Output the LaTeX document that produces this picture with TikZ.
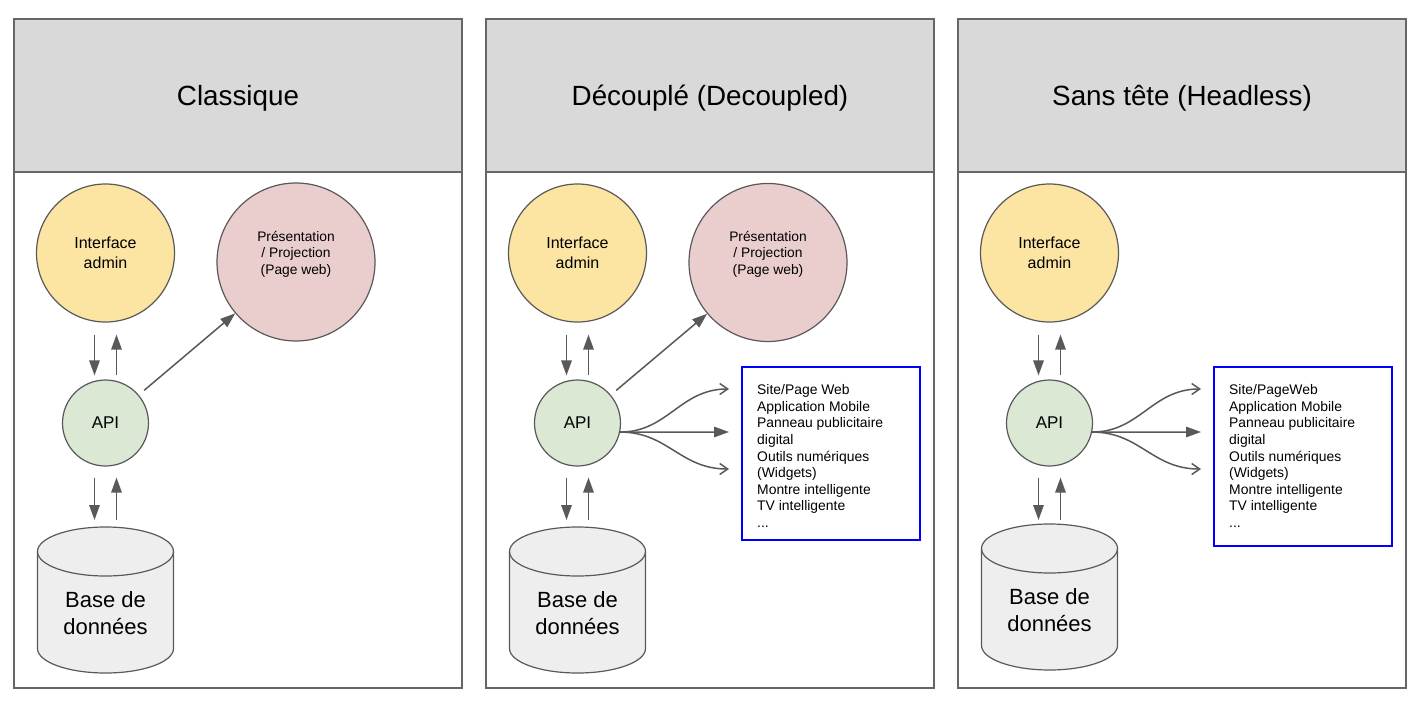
\documentclass[tikz,border=0pt]{standalone}
\usepackage{fontspec}
\setmainfont{Liberation Sans}
\usetikzlibrary{arrows.meta}
\definecolor{hdr}{HTML}{D9D9D9}
\definecolor{edgec}{HTML}{666666}
\definecolor{lnc}{HTML}{595959}
\definecolor{yel}{HTML}{FCE5A3}
\definecolor{pnk}{HTML}{EACECE}
\definecolor{grn}{HTML}{DAE8D4}
\definecolor{dbf}{HTML}{EEEEEE}
\definecolor{blu}{HTML}{0000FF}
\newcommand\dbcyl[3]{%
  \draw[draw=lnc, line width=1.2pt, fill=dbf]
    ({#1-68},{#2+24.5}) -- ({#1-68},{#3-24.5})
    .. controls ({#1-68},{#3-10.97}) and ({#1-37.56},{#3}) .. ({#1},{#3})
    .. controls ({#1+37.56},{#3}) and ({#1+68},{#3-10.97}) .. ({#1+68},{#3-24.5})
    -- ({#1+68},{#2+24.5})
    .. controls ({#1+68},{#2+10.97}) and ({#1+37.56},{#2}) .. ({#1},{#2})
    .. controls ({#1-37.56},{#2}) and ({#1-68},{#2+10.97}) .. ({#1-68},{#2+24.5}) -- cycle;
  \draw[draw=lnc, line width=1.2pt]
    ({#1-68},{#2+24.5})
    .. controls ({#1-68},{#2+38.03}) and ({#1-37.56},{#2+49}) .. ({#1},{#2+49})
    .. controls ({#1+37.56},{#2+49}) and ({#1+68},{#2+38.03}) .. ({#1+68},{#2+24.5});
}
\begin{document}
\begin{tikzpicture}[x=1pt,y=-1pt,
  panelbox/.style={draw=edgec, line width=1.6pt},
  circ/.style={circle, draw=lnc, line width=1.2pt, inner sep=0pt, align=center},
  arr/.style={draw=lnc, line width=1.5pt, -{Triangle[length=15pt,width=10.5pt]}},
  barb/.style={draw=lnc, line width=1.5pt, -{Straight Barb[length=8pt,width=11pt,line width=1.5pt]}},
  title/.style={anchor=base, font=\fontsize{27.8}{32}\selectfont},
  itxt/.style={font=\fontsize{16}{20}\selectfont},
  ptxt/.style={align=center, inner sep=0pt, font=\fontsize{13.8}{16.5}\selectfont},
  atxt/.style={font=\fontsize{17}{20}\selectfont},
  dtxt/.style={align=center, inner sep=0pt, font=\fontsize{22}{27}\selectfont},
  listbox/.style={draw=blu, line width=1.3pt, anchor=north west, inner sep=0pt, outer sep=0pt},
  listtxt/.style={align=left, anchor=north west, inner sep=0pt, font=\fontsize{13.9}{16.6}\selectfont}
]
\useasboundingbox (0,0) rectangle (1426,714);
\fill[white] (0,0) rectangle (1426,714);

% ---------- panels ----------
\draw[panelbox, fill=hdr] (14,19) rectangle (462,172);
\draw[panelbox] (14,172) rectangle (462,688);
\draw[panelbox, fill=hdr] (486,19) rectangle (934,172);
\draw[panelbox] (486,172) rectangle (934,688);
\draw[panelbox, fill=hdr] (958,19) rectangle (1406,172);
\draw[panelbox] (958,172) rectangle (1406,688);

\node[title] (t1) at (238,106) {Classique};
\node[title] (t2) at (710,106) {Découplé (Decoupled)};
\node[title] (t3) at (1182,106) {Sans tête (Headless)};

% ---------- panel 1 ----------
\node[circ, fill=yel, minimum size=138pt, itxt] (ia1) at (105.5,253) {Interface\\admin};
\node[circ, fill=pnk, minimum size=158pt] (pr1) at (296,262) {};
\node[ptxt] (pr1t) at (296,254) {Présentation\\/ Projection\\(Page web)};
\node[circ, fill=grn, minimum size=86pt, atxt] (api1) at (105.5,423) {API};
\dbcyl{105.5}{527}{673}
\coordinate (db1) at (105.5,527);
\node[dtxt] (db1t) at (105.5,613.5) {Base de\\données};

\draw[arr, shorten <=12pt, shorten >=4pt] ([xshift=-11pt]ia1.south) -- ([xshift=-11pt]api1.north);
\draw[arr, shorten <=4pt, shorten >=12pt] ([xshift=11pt]api1.north) -- ([xshift=11pt]ia1.south);
\draw[arr, shorten <=11pt, shorten >=7pt] ([xshift=-11pt]api1.south) -- ([xshift=-11pt]db1);
\draw[arr, shorten <=7pt, shorten >=11pt] ([xshift=11pt]db1) -- ([xshift=11pt]api1.south);
\draw[arr, shorten <=7pt] (api1) -- (pr1);

% ---------- panel 2 ----------
\node[circ, fill=yel, minimum size=138pt, itxt] (ia2) at (577.5,253) {Interface\\admin};
\node[circ, fill=pnk, minimum size=158pt] (pr2) at (768,262.5) {};
\node[ptxt] (pr2t) at (768,254) {Présentation\\/ Projection\\(Page web)};
\node[circ, fill=grn, minimum size=86pt, atxt] (api2) at (577.5,423) {API};
\dbcyl{577.5}{527}{673}
\coordinate (db2) at (577.5,527);
\node[dtxt] (db2t) at (577.5,613.5) {Base de\\données};
\node[listbox, minimum width=178pt, minimum height=173pt] (box2) at (742,367) {};
\node[listtxt] (list2) at (757,384.5) {Site/Page Web\\Application Mobile\\Panneau publicitaire\\digital\\Outils numériques\\(Widgets)\\Montre intelligente\\TV intelligente\\...};
\coordinate (f2a) at (729,389);
\coordinate (f2b) at (729,432);
\coordinate (f2c) at (729,469);

\draw[arr, shorten <=12pt, shorten >=4pt] ([xshift=-11pt]ia2.south) -- ([xshift=-11pt]api2.north);
\draw[arr, shorten <=4pt, shorten >=12pt] ([xshift=11pt]api2.north) -- ([xshift=11pt]ia2.south);
\draw[arr, shorten <=11pt, shorten >=7pt] ([xshift=-11pt]api2.south) -- ([xshift=-11pt]db2);
\draw[arr, shorten <=7pt, shorten >=11pt] ([xshift=11pt]db2) -- ([xshift=11pt]api2.south);
\draw[arr, shorten <=7pt] (api2) -- (pr2);
\draw[barb] (api2.-12) .. controls (668,432) and (680,389) .. (f2a);
\draw[arr] (api2.-12) -- (f2b);
\draw[barb] (api2.-12) .. controls (668,432) and (680,469) .. (f2c);

% ---------- panel 3 ----------
\node[circ, fill=yel, minimum size=138pt, itxt] (ia3) at (1049.5,253) {Interface\\admin};
\node[circ, fill=grn, minimum size=86pt, atxt] (api3) at (1049.5,423) {API};
\dbcyl{1049.5}{524}{670}
\coordinate (db3) at (1049.5,524);
\node[dtxt] (db3t) at (1049.5,610) {Base de\\données};
\node[listbox, minimum width=178pt, minimum height=179pt] (box3) at (1214,367) {};
\node[listtxt] (list3) at (1229,384.5) {Site/PageWeb\\Application Mobile\\Panneau publicitaire\\digital\\Outils numériques\\(Widgets)\\Montre intelligente\\TV intelligente\\...};
\coordinate (f3a) at (1201,389);
\coordinate (f3b) at (1201,432);
\coordinate (f3c) at (1201,469);

\draw[arr, shorten <=12pt, shorten >=4pt] ([xshift=-11pt]ia3.south) -- ([xshift=-11pt]api3.north);
\draw[arr, shorten <=4pt, shorten >=12pt] ([xshift=11pt]api3.north) -- ([xshift=11pt]ia3.south);
\draw[arr, shorten <=11pt, shorten >=4pt] ([xshift=-11pt]api3.south) -- ([xshift=-11pt]db3);
\draw[arr, shorten <=4pt, shorten >=11pt] ([xshift=11pt]db3) -- ([xshift=11pt]api3.south);
\draw[barb] (api3.-12) .. controls (1140,432) and (1152,389) .. (f3a);
\draw[arr] (api3.-12) -- (f3b);
\draw[barb] (api3.-12) .. controls (1140,432) and (1152,469) .. (f3c);
\end{tikzpicture}
\end{document}
